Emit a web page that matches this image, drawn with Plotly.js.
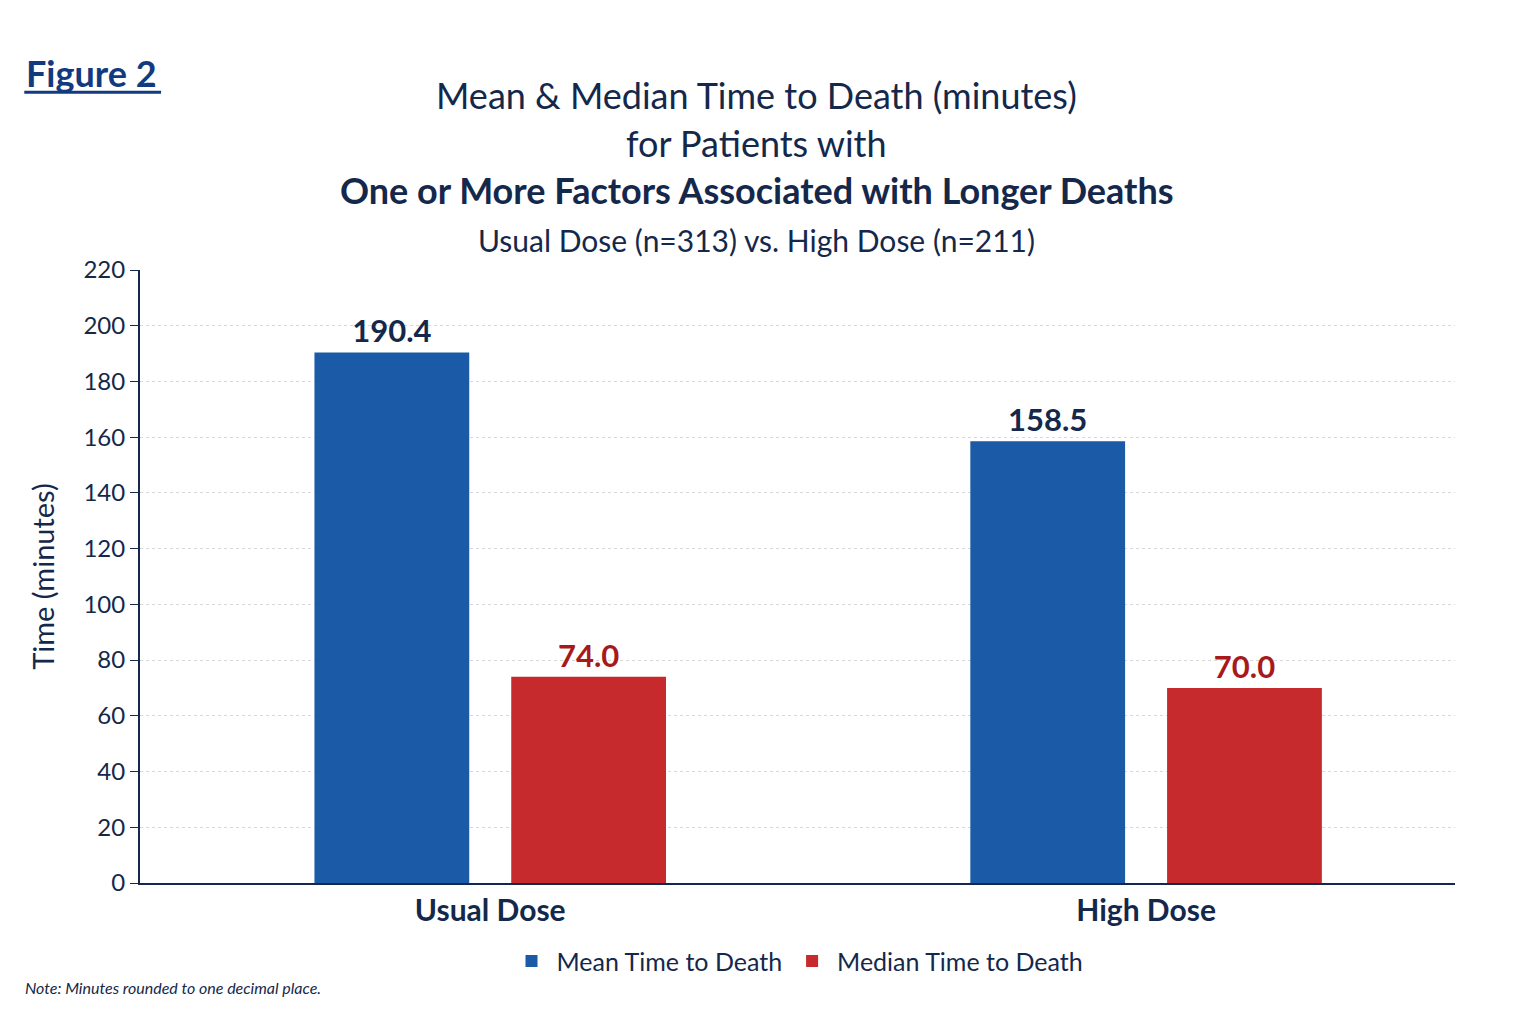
<!DOCTYPE html>
<html><head><meta charset="utf-8">
<script src="https://cdn.plot.ly/plotly-3.0.1.min.js"></script>
<style>body{margin:0;background:#fff}#chart{width:1536px;height:1024px}</style>
</head><body><div id="chart"></div>
<script>
const groups = ['Usual Dose', 'High Dose'];
const meanTimes = [190.4, 158.5];
const medianTimes = [74.0, 70.0];
const yTicks = [0, 20, 40, 60, 80, 100, 120, 140, 160, 180, 200, 220];

const navy = '#14284b';
const blue = '#1b5aa6';
const red = '#c62a2d';

const data = [
  {
    type: 'bar', x: groups, y: meanTimes, name: 'Mean Time to Death',
    marker: { color: blue }, width: 0.236, offset: -0.268,
    text: meanTimes.map(v => '<b>' + v.toFixed(1) + '</b>'), textposition: 'outside',
    textfont: { family: 'Lato, sans-serif', size: 31, color: navy }, cliponaxis: false
  },
  {
    type: 'bar', x: groups, y: medianTimes, name: 'Median Time to Death',
    marker: { color: red }, width: 0.236, offset: 0.032,
    text: medianTimes.map(v => '<b>' + v.toFixed(1) + '</b>'), textposition: 'outside',
    textfont: { family: 'Lato, sans-serif', size: 31, color: '#a8191c' }, cliponaxis: false
  }
];

const layout = {
  width: 1536, height: 1024,
  paper_bgcolor: '#fff', plot_bgcolor: '#fff',
  margin: { l: 140, r: 81, t: 270, b: 141 },
  font: { family: 'Lato, sans-serif', color: navy },
  showlegend: true,
  legend: { orientation: 'h', x: 0.5, xanchor: 'center', y: -0.09, yanchor: 'top',
    font: { size: 25, color: navy }, itemwidth: 40, traceorder: 'normal' },
  xaxis: {
    type: 'category', range: [-0.534, 1.471],
    showline: true, linecolor: navy, linewidth: 2, ticks: '',
    tickfont: { size: 30, color: navy }, ticktext: groups.map(g => '<b>' + g + '</b>'), tickvals: groups
  },
  yaxis: {
    range: [0, 220], tickvals: yTicks, showline: true, linecolor: navy, linewidth: 2,
    ticks: 'outside', ticklen: 8, tickcolor: navy, tickfont: { size: 24, color: navy },
    gridcolor: '#d8d8d8', griddash: 'dot', zeroline: false,
    title: { text: 'Time (minutes)', font: { size: 29, color: navy }, standoff: 20 }
  },
  annotations: [
    { text: '<b>Figure 2</b>', x: 23, y: 34, xref: 'paper', yref: 'paper', showarrow: false },
    { text: 'Mean & Median Time to Death (minutes)', xref: 'paper', yref: 'paper', x: 0.5, y: 1, showarrow: false }
  ].slice(0, 0).concat([
    { xref: 'paper', yref: 'paper', x: -0.088, y: 1.36, xanchor: 'left', showarrow: false,
      text: '<b>Figure 2</b>', font: { size: 36, color: '#123a80' } },
    { xref: 'paper', yref: 'paper', x: 0.469, y: 1.325, showarrow: false,
      text: 'Mean & Median Time to Death (minutes)', font: { size: 36, color: navy } },
    { xref: 'paper', yref: 'paper', x: 0.469, y: 1.247, showarrow: false,
      text: 'for Patients with', font: { size: 36, color: navy } },
    { xref: 'paper', yref: 'paper', x: 0.469, y: 1.169, showarrow: false,
      text: '<b>One or More Factors Associated with Longer Deaths</b>', font: { size: 36, color: navy } },
    { xref: 'paper', yref: 'paper', x: 0.469, y: 1.082, showarrow: false,
      text: 'Usual Dose (n=313) vs. High Dose (n=211)', font: { size: 30, color: navy } },
    { xref: 'paper', yref: 'paper', x: -0.089, y: -0.19, xanchor: 'left', showarrow: false,
      text: '<i>Note: Minutes rounded to one decimal place.</i>', font: { size: 16, color: navy } }
  ]),
  shapes: [
    { type: 'line', xref: 'paper', yref: 'paper', x0: -0.088, x1: 0.016, y0: 1.29, y1: 1.29,
      line: { color: '#123a80', width: 3 } }
  ]
};

Plotly.newPlot('chart', data, layout, { displayModeBar: false });
</script>
</body></html>
